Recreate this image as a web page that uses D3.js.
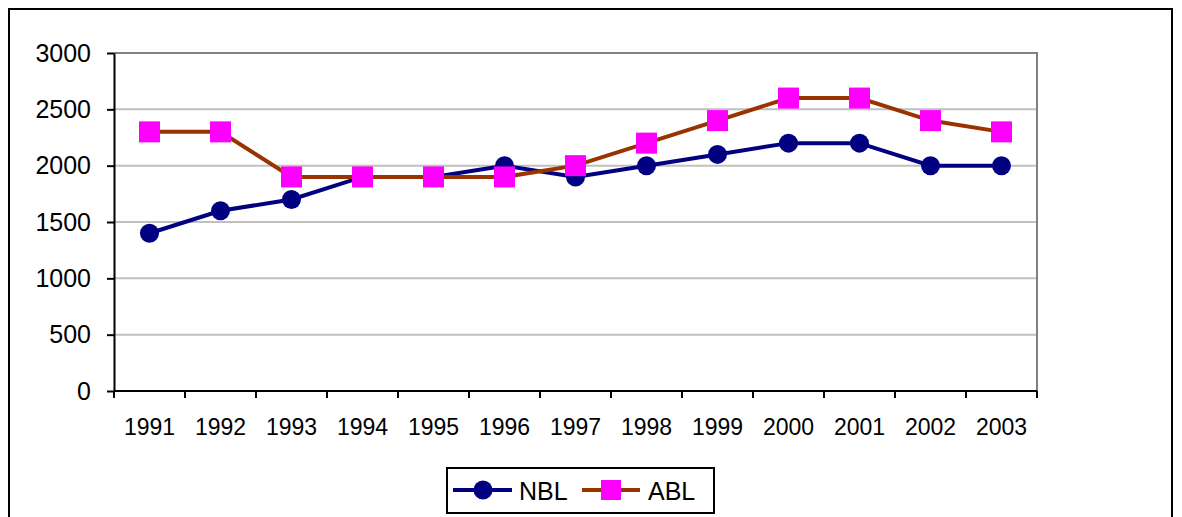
<!DOCTYPE html>
<html lang="en">
<head>
<meta charset="UTF-8">
<title>NBL ABL</title>
<script src="https://d3js.org/d3.v7.min.js"></script>
<style>
    body{ margin:0; background:#fff; }
    text{ font-family: Arial, "Liberation Sans", sans-serif; fill:#000; }
</style>
</head>
<body>
<svg id="chart" width="1182" height="517"></svg>
<script>
    // data
    let years = ["1991","1992","1993","1994","1995","1996","1997","1998","1999","2000","2001","2002","2003"]
    let nbl = [1400,1600,1700,1900,1900,2000,1900,2000,2100,2200,2200,2000,2000]
    let abl = [2300,2300,1900,1900,1900,1900,2000,2200,2400,2600,2600,2400,2300]
    let yTicks = [0,500,1000,1500,2000,2500,3000]

    let svg = d3.select("#chart")

    // outer frame
    svg.append("rect")
        .attr("x",9).attr("y",9)
        .attr("width",1163).attr("height",530)
        .attr("fill","none").attr("stroke","#000").attr("stroke-width",2)

    let pLeft = 114, pRight = 1037, pTop = 53, pBottom = 391

    let x = d3.scaleBand().domain(years).range([pLeft,pRight])
    let y = d3.scaleLinear().domain([0,3000]).range([pBottom,pTop])

    // gridlines
    svg.append("g").selectAll("line")
        .data(yTicks.filter(d => d > 0 && d < 3000))
        .join("line")
        .attr("x1",pLeft).attr("x2",pRight)
        .attr("y1",d => y(d)).attr("y2",d => y(d))
        .attr("stroke","#c0c0c0").attr("stroke-width",2)

    // plot frame top/right
    svg.append("path")
        .attr("d",`M${pLeft},${pTop}H${pRight}V${pBottom}`)
        .attr("fill","none").attr("stroke","#808080").attr("stroke-width",2)

    // y axis
    let yAxis = svg.append("g")
        .attr("transform",`translate(${pLeft},0)`)
        .call(d3.axisLeft(y).tickValues(yTicks).tickFormat(d3.format("d"))
            .tickSize(7).tickPadding(16).tickSizeOuter(0))
    yAxis.attr("font-size",null).attr("font-family",null)
    yAxis.select(".domain").attr("stroke","#000").attr("stroke-width",2)
    yAxis.selectAll(".tick line").attr("stroke","#000").attr("stroke-width",2)
    yAxis.selectAll("text").attr("font-size",25).attr("fill","#000")

    // x axis (ticks between categories)
    let xg = svg.append("g")
    xg.append("line")
        .attr("x1",pLeft).attr("x2",pRight)
        .attr("y1",pBottom).attr("y2",pBottom)
        .attr("stroke","#000").attr("stroke-width",2)
    let bounds = years.map(d => x(d)).concat([pRight])
    xg.selectAll("line.tk").data(bounds).join("line")
        .attr("class","tk")
        .attr("x1",d => d).attr("x2",d => d)
        .attr("y1",pBottom).attr("y2",pBottom + 7)
        .attr("stroke","#000").attr("stroke-width",2)
    xg.selectAll("text").data(years).join("text")
        .attr("x",d => x(d) + x.bandwidth()/2)
        .attr("y",435)
        .attr("text-anchor","middle")
        .attr("font-size",23)
        .text(d => d)

    let cx = d => x(d) + x.bandwidth()/2
    let line = d3.line().x((d,i) => cx(years[i])).y(d => y(d))

    // NBL
    svg.append("path").datum(nbl)
        .attr("d",line).attr("fill","none")
        .attr("stroke","#000080").attr("stroke-width",4)
    svg.append("g").selectAll("circle").data(nbl).join("circle")
        .attr("cx",(d,i) => cx(years[i])).attr("cy",d => y(d))
        .attr("r",9.5).attr("fill","#000080")

    // ABL
    svg.append("path").datum(abl)
        .attr("d",line).attr("fill","none")
        .attr("stroke","#993300").attr("stroke-width",4)
    svg.append("g").selectAll("rect").data(abl).join("rect")
        .attr("x",(d,i) => cx(years[i]) - 10.5).attr("y",d => y(d) - 10.5)
        .attr("width",21).attr("height",21).attr("fill","#ff00ff")

    // legend
    let lg = svg.append("g")
    lg.append("rect")
        .attr("x",447).attr("y",468).attr("width",267).attr("height",45)
        .attr("fill","#fff").attr("stroke","#000").attr("stroke-width",2)
    lg.append("line").attr("x1",453).attr("x2",512).attr("y1",490).attr("y2",490)
        .attr("stroke","#000080").attr("stroke-width",4)
    lg.append("circle").attr("cx",483).attr("cy",490).attr("r",9.5).attr("fill","#000080")
    lg.append("text").attr("x",519).attr("y",500).attr("font-size",25).text("NBL")
    lg.append("line").attr("x1",582).attr("x2",640).attr("y1",490).attr("y2",490)
        .attr("stroke","#993300").attr("stroke-width",4)
    lg.append("rect").attr("x",601).attr("y",480).attr("width",20).attr("height",20).attr("fill","#ff00ff")
    lg.append("text").attr("x",648).attr("y",500).attr("font-size",25).text("ABL")
</script>
</body>
</html>
